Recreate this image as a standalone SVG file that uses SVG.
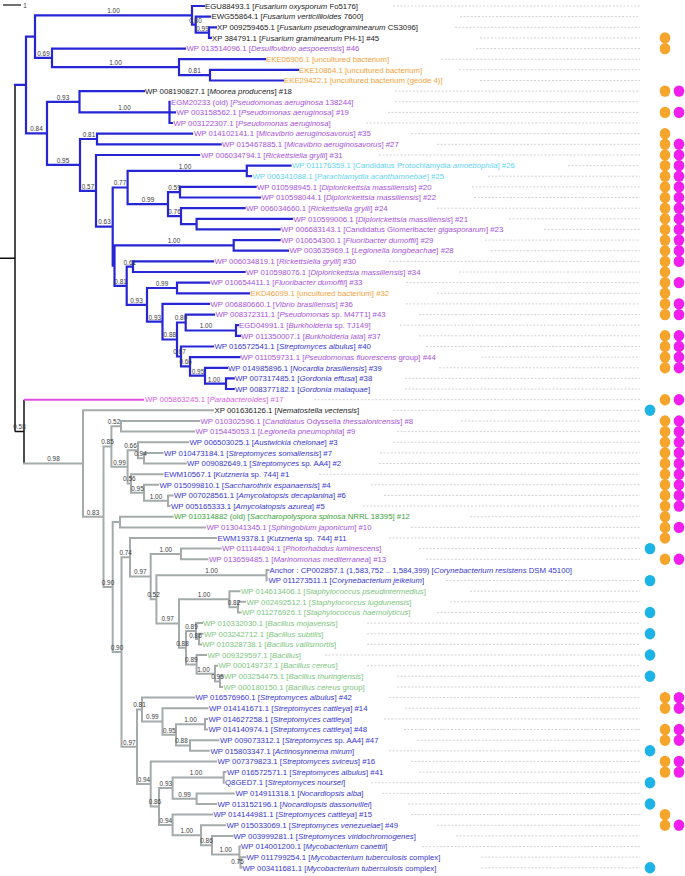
<svg xmlns="http://www.w3.org/2000/svg" width="685" height="876" viewBox="0 0 685 876">
<style>
.t{font-family:"Liberation Sans",Arial,sans-serif;font-size:7.8px}
.s{font-family:"Liberation Sans",Arial,sans-serif;font-size:6.4px;fill:#3a3a3a;text-anchor:middle}
.i{font-style:italic}
.k{fill:#1a1a1a}.p{fill:#a652dc}.b{fill:#3636cf}.o{fill:#f2a33a}.c{fill:#5fd3f2}.g{fill:#3aa33a}.lg{fill:#7cc67c}.m{fill:#d662e0}
.bb{stroke:#2626d4;stroke-width:2.2;fill:none;stroke-linecap:square}
.bg{stroke:#a4abab;stroke-width:2;fill:none;stroke-linecap:square}
.bk{stroke:#111;stroke-width:1.5;fill:none}
.bm{stroke:#e050e0;stroke-width:2;fill:none}
.ld{stroke:#c6c6c6;stroke-width:0.8;stroke-dasharray:2 1.6;fill:none}
.dO{fill:#f5a42c}.dM{fill:#f01fee}.dC{fill:#1db3e6}
</style>
<defs>
<ellipse id="dot" rx="5.3" ry="5.7"/>
</defs>
<g id="scale"><line x1="3" y1="5" x2="21" y2="5" stroke="#111" stroke-width="1.2"/><text class="s" x="25" y="7.5">1</text></g>
<g id="connectors">
<path class="bk" d="M0 258.3H15 M15 84.9V431.6 M15 431.6H24 M24 399.7V463.6"/>
<path class="bm" d="M24 399.7H144"/>
<path class="bb" d="M15 84.9H26 M26 36.6V133.3 M26 36.6H35 M35 15.3V57.9 M35 15.3H192 M192 6V24.6 M192 6H204 M192 24.6H195.7 M195.7 16.6V32.6 M195.7 16.6H210 M195.7 32.6H209 M209 27.3V37.9 M209 27.3H216 M209 37.9H211 M35 57.9H52 M52 48.6V67.2 M52 48.6H185 M52 67.2H179 M179 59.2V75.2 M179 59.2H265 M179 75.2H210 M210 69.8V80.5 M210 69.8H298 M210 80.5H283 M26 133.3H47 M47 101.8V164.9 M47 101.8H79.5 M79.5 91.1V112.4 M79.5 91.1H144 M79.5 112.4H169.5 M169.5 101.8V123 M169.5 112.4H175 M169.5 123H172 M47 164.9H80 M80 139V190.8 M80 139H97 M97 133.7V144.3 M97 133.7H192 M97 144.3H220.6 M80 190.8H96 M96 155V226.6 M96 155H199 M96 226.6H112.7 M112.7 187.5V265.6 M112.7 187.5H127.6 M127.6 170.9V204.2 M127.6 170.9H246.8 M246.8 165.6V176.2 M246.8 165.6H290.5 M246.8 176.2H251 M127.6 204.2H168 M168 192.2V216.1 M168 192.2H180 M180 186.9V197.5 M180 186.9H255.6 M180 197.5H260 M168 216.1H181 M181 208.2V224.1 M181 208.2H244.6 M181 224.1H196.6 M196.6 218.8V229.4 M196.6 218.8H292 M196.6 229.4H279.6 M112.7 265.6H114.5 M114.5 245.4V285.8 M114.5 245.4H233.7 M233.7 240.1V250.7 M233.7 240.1H279.6 M233.7 250.7H288 M114.5 285.8H126.7 M126.7 266.7V304.8 M126.7 266.7H133 M133 261.4V272 M133 261.4H213 M133 272H244.6 M126.7 304.8H147 M147 288V321.7 M147 288H177 M177 282.6V293.3 M177 282.6H209 M177 293.3H249 M147 321.7H162.5 M162.5 303.9V339.5 M162.5 303.9H209 M162.5 339.5H177 M177 322.5V356.5 M177 322.5H185.7 M185.7 314.6V330.5 M185.7 314.6H214 M185.7 330.5H236 M236 325.2V335.8 M236 325.2H238 M236 335.8H240 M177 356.5H181 M181 346.5V366.4 M181 346.5H213 M181 366.4H190 M190 357.1V375.7 M190 357.1H239.4 M190 375.7H205 M205 367.8V383.7 M205 367.8H227 M205 383.7H226 M226 378.4V389 M226 378.4H233.7 M226 389H233.7"/>
<path class="bg" d="M24 463.6H83 M83 410.3V516.8 M83 410.3H213 M83 516.8H103.5 M103.5 446.6V587 M103.5 446.6H111.4 M111.4 426.3V466.8 M111.4 426.3H121 M121 421V431.6 M121 421H199 M121 431.6H194 M111.4 466.8H127.6 M127.6 450.2V483.5 M127.6 450.2H138 M138 442.2V458.2 M138 442.2H188 M138 458.2H144 M144 452.9V463.5 M144 452.9H162.5 M144 463.5H185.7 M127.6 483.5H131 M131 474.2V492.8 M131 474.2H162.5 M131 492.8H144 M144 484.8V500.8 M144 484.8H158 M144 500.8H168 M168 495.4V506.1 M168 495.4H172.6 M168 506.1H169.5 M103.5 587H112.7 M112.7 522V652 M112.7 522H120 M120 516.7V527.4 M120 516.7H172.6 M120 527.4H205 M112.7 652H121.5 M121.5 557.3V746.8 M121.5 557.3H130 M130 538V576.6 M130 538H216 M130 576.6H150.7 M150.7 554V599.3 M150.7 554H181 M181 548.6V559.3 M181 548.6H220.6 M181 559.3H207.5 M150.7 599.3H156.4 M156.4 575.2V623.4 M156.4 575.2H266.5 M266.5 569.9V580.6 M266.5 569.9H268.5 M156.4 623.4H179 M179 599.2V647.7 M179 599.2H229.4 M229.4 591.2V607.2 M229.4 591.2H239.4 M229.4 607.2H238 M238 601.8V612.5 M238 601.8H245 M238 612.5H240.5 M179 647.7H186 M186 631.1V664.4 M186 631.1H196 M196 623.1V639.1 M196 623.1H202 M196 639.1H199 M199 633.8V644.4 M199 633.8H202.5 M199 644.4H201 M186 664.4H196.6 M196.6 655V673.7 M196.6 655H206 M196.6 673.7H215 M215 665.7V681.6 M215 665.7H217 M215 681.6H220 M220 676.3V687 M220 676.3H222.5 M220 687H222 M121.5 746.8H137 M137 709.6V784 M137 709.6H142 M142 697.6V721.5 M142 697.6H194.4 M142 721.5H162.5 M162.5 708.2V734.8 M162.5 708.2H207.5 M162.5 734.8H176 M176 724.2V745.5 M176 724.2H205 M205 718.9V729.5 M205 718.9H207 M205 729.5H207 M176 745.5H190 M190 740.2V750.8 M190 740.2H218.4 M190 750.8H208.8 M137 784H150.7 M150.7 761.4V806.5 M150.7 761.4H216 M150.7 806.5H159 M159 788V825 M159 788H172.6 M172.6 777.4V798.7 M172.6 777.4H223.7 M223.7 772.1V782.7 M223.7 772.1H225.5 M172.6 798.7H196.6 M196.6 793.4V804 M196.6 793.4H233.7 M196.6 804H216 M159 825H172.6 M172.6 814.6V835.3 M172.6 814.6H212 M172.6 835.3H201 M201 825.3V845.2 M201 825.3H225 M201 845.2H212 M212 835.9V854.5 M212 835.9H232.4 M212 854.5H239.4 M239.4 846.6V862.5 M239.4 846.6H240 M239.4 862.5H240.5 M240.5 857.2V867.8 M240.5 857.2H245.5 M240.5 867.8H241.5"/>
<path class="ld" d="M393 6H640 M460 16.6H640 M455 27.3H640 M480 37.9H640 M476 48.6H640 M441 59.2H640 M459 69.8H640 M480 80.5H640 M395 91.1H640 M395 101.8H640 M388 112.4H640 M366 123H640 M411 133.7H640 M437 144.3H640 M379 155H640 M568 165.6H640 M488 176.2H640 M472 186.9H640 M474 197.5H640 M437 208.2H640 M509 218.8H640 M544 229.4H640 M485 240.1H640 M491 250.7H640 M389 261.4H640 M459 272H640 M406 282.6H640 M437 293.3H640 M406 303.9H640 M419 314.6H640 M400 325.2H640 M419 335.8H640 M426 346.5H640 M481 357.1H640 M439 367.8H640 M405 378.4H640 M405 389H640 M314 399.7H640 M393 410.3H640 M461 421H640 M397 431.6H640 M393 442.2H640 M380 452.9H640 M379 463.5H640 M319 474.2H640 M371 484.8H640 M384 495.4H640 M363 506.1H640 M470 516.7H640 M411 527.4H640 M389 538H640 M419 548.6H640 M426 559.3H640 M446 580.6H640 M470 591.2H640 M450 601.8H640 M437 612.5H640 M367 623.1H640 M367 633.8H640 M367 644.4H640 M325 655H640 M367 665.7H640 M397 676.3H640 M397 687H640 M389 697.6H640 M405 708.2H640 M384 718.9H640 M404 729.5H640 M417 740.2H640 M389 750.8H640 M411 761.4H640 M419 772.1H640 M371 782.7H640 M382 793.4H640 M408 804H640 M411 814.6H640 M437 825.3H640 M456 835.9H640 M422 846.6H640 M481 857.2H640 M481 867.8H640"/>
</g>
<g id="supports">
<text class="s" x="113.5" y="13.1">1.00</text><text class="s" x="195.5" y="22.5">0.80</text><text class="s" x="202.5" y="30.6">0.99</text>
<text class="s" x="43.5" y="55.7">0.69</text><text class="s" x="115.5" y="65">1.00</text><text class="s" x="194.5" y="72.9">0.81</text>
<text class="s" x="63" y="99.6">0.93</text><text class="s" x="124.5" y="110.2">1.00</text><text class="s" x="36.5" y="131.1">0.84</text>
<text class="s" x="89" y="136.8">0.81</text><text class="s" x="63" y="162.7">0.95</text><text class="s" x="88" y="188.6">0.57</text>
<text class="s" x="104.5" y="224.4">0.63</text><text class="s" x="120" y="185.3">0.77</text><text class="s" x="185" y="168.7">1.00</text>
<text class="s" x="148" y="202">0.99</text><text class="s" x="174.5" y="190">0.59</text><text class="s" x="174.5" y="213.9">0.76</text>
<text class="s" x="174" y="243.2">1.00</text><text class="s" x="129.8" y="264.5">0.61</text><text class="s" x="120.6" y="283.6">0.81</text>
<text class="s" x="136.5" y="302.6">0.93</text><text class="s" x="162" y="285.8">0.99</text><text class="s" x="154.8" y="319.5">0.93</text>
<text class="s" x="181" y="320.3">0.80</text><text class="s" x="206" y="328.3">1.00</text><text class="s" x="169.8" y="337.3">0.88</text>
<text class="s" x="179.5" y="354.3">0.67</text><text class="s" x="185.7" y="364.2">0.66</text><text class="s" x="198" y="373.5">0.95</text>
<text class="s" x="214" y="381.5">1.00</text>
<text class="s" x="19.5" y="429.4">0.58</text><text class="s" x="53.5" y="461.4">0.98</text><text class="s" x="93" y="514.6">0.83</text>
<text class="s" x="107.5" y="444.4">0.85</text><text class="s" x="114" y="424.1">0.52</text><text class="s" x="119.5" y="464.6">0.99</text>
<text class="s" x="130.5" y="448">0.66</text><text class="s" x="140.5" y="456">0.94</text><text class="s" x="129.3" y="481.3">0.56</text>
<text class="s" x="137.5" y="490.6">0.95</text><text class="s" x="156" y="498.6">1.00</text><text class="s" x="108" y="584.8">0.90</text>
<text class="s" x="117" y="649.8">0.90</text><text class="s" x="125.7" y="555.1">0.74</text><text class="s" x="140.3" y="574.4">0.97</text>
<text class="s" x="165.8" y="551.8">1.00</text><text class="s" x="153.5" y="597.1">0.52</text><text class="s" x="211.5" y="573">1.00</text>
<text class="s" x="167.7" y="621.2">0.97</text><text class="s" x="204" y="597">1.00</text><text class="s" x="234" y="605.2">0.82</text>
<text class="s" x="182.5" y="645.5">0.88</text><text class="s" x="191.5" y="628.6">0.89</text><text class="s" x="195.5" y="637.8">0.86</text>
<text class="s" x="191.3" y="662.2">0.89</text><text class="s" x="203.5" y="671.5">1.00</text><text class="s" x="217.5" y="679.4">0.95</text>
<text class="s" x="129.3" y="744.6">0.97</text><text class="s" x="139.5" y="707.4">0.81</text><text class="s" x="152.3" y="719.3">0.99</text>
<text class="s" x="169.3" y="732.6">0.95</text><text class="s" x="190.5" y="722">1.00</text><text class="s" x="181.5" y="743.3">0.88</text>
<text class="s" x="143.9" y="781.8">0.94</text><text class="s" x="154.9" y="804.3">0.86</text><text class="s" x="165.8" y="785.8">0.93</text>
<text class="s" x="196" y="775.2">1.00</text><text class="s" x="184.6" y="796.5">0.99</text><text class="s" x="165.8" y="822.7">0.94</text>
<text class="s" x="186.8" y="833">1.00</text><text class="s" x="206.5" y="843">0.86</text><text class="s" x="225.7" y="852.3">1.00</text>
<text class="s" x="237.5" y="864">0.75</text>
</g>
<g id="n01"><text class="t k" x="205" y="8.7">EGU88493.1 [<tspan class="i">Fusarium oxysporum</tspan> Fo5176]</text></g>
<g id="n02"><text class="t k" x="211.5" y="19.3">EWG55864.1 [<tspan class="i">Fusarium verticillioides</tspan> 7600]</text></g>
<g id="n03"><text class="t k" x="217" y="30">XP 009259465.1 [<tspan class="i">Fusarium pseudograminearum</tspan> CS3096]</text></g>
<g id="n04"><text class="t k" x="212" y="40.6">XP 384791.1 [<tspan class="i">Fusarium graminearum</tspan> PH-1] #45</text><use href="#dot" class="dO" x="665" y="37.9"/></g>
<g id="n05"><text class="t p" x="186.5" y="51.3">WP 013514096.1 [<tspan class="i">Desulfovibrio aespoeensis</tspan>] #46</text><use href="#dot" class="dO" x="665" y="48.6"/></g>
<g id="n06"><text class="t o" x="266" y="61.9">EKE06906.1 [uncultured bacterium]</text></g>
<g id="n07"><text class="t o" x="299" y="72.5">EKE10864.1 [uncultured bacterium]</text></g>
<g id="n08"><text class="t o" x="284" y="83.2">EKE29422.1 [uncultured bacterium (geode 4)]</text></g>
<g id="n09"><text class="t k" x="145" y="93.8">WP 008190827.1 [<tspan class="i">Moorea producens</tspan>] #18</text><use href="#dot" class="dO" x="665" y="91.1"/><use href="#dot" class="dM" x="679" y="91.1"/></g>
<g id="n10"><text class="t p" x="171" y="104.5">EGM20233 (old) [<tspan class="i">Pseudomonas aeruginosa</tspan> 138244]</text></g>
<g id="n11"><text class="t p" x="176.5" y="115.1">WP 003158562.1 [<tspan class="i">Pseudomonas aeruginosa</tspan>] #19</text><use href="#dot" class="dO" x="665" y="112.4"/><use href="#dot" class="dM" x="679" y="112.4"/></g>
<g id="n12"><text class="t p" x="173.5" y="125.7">WP 003122307.1 [<tspan class="i">Pseudomonas aeruginosa</tspan>]</text></g>
<g id="n13"><text class="t p" x="194" y="136.4">WP 014102141.1 [<tspan class="i">Micavibrio aeruginosavorus</tspan>] #35</text><use href="#dot" class="dO" x="665" y="133.7"/></g>
<g id="n14"><text class="t p" x="222" y="147">WP 015467885.1 [<tspan class="i">Micavibrio aeruginosavorus</tspan>] #27</text><use href="#dot" class="dO" x="665" y="144.3"/><use href="#dot" class="dM" x="679" y="144.3"/></g>
<g id="n15"><text class="t p" x="201" y="157.7">WP 006034794.1 [<tspan class="i">Rickettsiella grylli</tspan>] #31</text><use href="#dot" class="dO" x="665" y="155"/><use href="#dot" class="dM" x="679" y="155"/></g>
<g id="n16"><text class="t c" x="292" y="168.3">WP 011176359.1 [Candidatus Protochlamydia <tspan class="i">amoebophila</tspan>] #26</text><use href="#dot" class="dO" x="665" y="165.6"/><use href="#dot" class="dM" x="679" y="165.6"/></g>
<g id="n17"><text class="t c" x="252.5" y="178.9">WP 006341088.1 [<tspan class="i">Parachlamydia acanthamoebae</tspan>] #25</text><use href="#dot" class="dO" x="665" y="176.2"/><use href="#dot" class="dM" x="679" y="176.2"/></g>
<g id="n18"><text class="t p" x="257" y="189.6">WP 010598945.1 [<tspan class="i">Diplorickettsia massiliensis</tspan>] #20</text><use href="#dot" class="dO" x="665" y="186.9"/><use href="#dot" class="dM" x="679" y="186.9"/></g>
<g id="n19"><text class="t p" x="261.5" y="200.2">WP 010598044.1 [<tspan class="i">Diplorickettsia massiliensis</tspan>] #22</text><use href="#dot" class="dO" x="665" y="197.5"/><use href="#dot" class="dM" x="679" y="197.5"/></g>
<g id="n20"><text class="t p" x="246" y="210.9">WP 006034660.1 [<tspan class="i">Rickettsiella grylli</tspan>] #24</text><use href="#dot" class="dO" x="665" y="208.2"/><use href="#dot" class="dM" x="679" y="208.2"/></g>
<g id="n21"><text class="t p" x="293.5" y="221.5">WP 010599006.1 [<tspan class="i">Diplorickettsia massiliensis</tspan>] #21</text><use href="#dot" class="dO" x="665" y="218.8"/><use href="#dot" class="dM" x="679" y="218.8"/></g>
<g id="n22"><text class="t p" x="281" y="232.1">WP 006683143.1 [Candidatus Glomeribacter <tspan class="i">gigasporarum</tspan>] #23</text><use href="#dot" class="dO" x="665" y="229.4"/><use href="#dot" class="dM" x="679" y="229.4"/></g>
<g id="n23"><text class="t p" x="281" y="242.8">WP 010654300.1 [<tspan class="i">Fluoribacter dumoffii</tspan>] #29</text><use href="#dot" class="dO" x="665" y="240.1"/><use href="#dot" class="dM" x="679" y="240.1"/></g>
<g id="n24"><text class="t p" x="289.5" y="253.4">WP 003635969.1 [<tspan class="i">Legionella longbeachae</tspan>] #28</text><use href="#dot" class="dO" x="665" y="250.7"/><use href="#dot" class="dM" x="679" y="250.7"/></g>
<g id="n25"><text class="t p" x="214.5" y="264.1">WP 006034819.1 [<tspan class="i">Rickettsiella grylli</tspan>] #30</text><use href="#dot" class="dO" x="665" y="261.4"/><use href="#dot" class="dM" x="679" y="261.4"/></g>
<g id="n26"><text class="t p" x="246" y="274.7">WP 010598076.1 [<tspan class="i">Diplorickettsia massiliensis</tspan>] #34</text><use href="#dot" class="dO" x="665" y="272"/></g>
<g id="n27"><text class="t p" x="210.5" y="285.3">WP 010654411.1 [<tspan class="i">Fluoribacter dumoffii</tspan>] #33</text><use href="#dot" class="dO" x="665" y="282.6"/><use href="#dot" class="dM" x="679" y="282.6"/></g>
<g id="n28"><text class="t o" x="250.5" y="296">EKD46099.1 [uncultured bacterium] #32</text><use href="#dot" class="dO" x="665" y="293.3"/></g>
<g id="n29"><text class="t p" x="210.5" y="306.6">WP 006880660.1 [<tspan class="i">Vibrio brasiliensis</tspan>] #36</text><use href="#dot" class="dO" x="665" y="303.9"/><use href="#dot" class="dM" x="679" y="303.9"/></g>
<g id="n30"><text class="t p" x="215.5" y="317.3">WP 008372311.1 [<tspan class="i">Pseudomonas</tspan> sp. M47T1] #43</text><use href="#dot" class="dO" x="665" y="314.6"/><use href="#dot" class="dM" x="679" y="314.6"/></g>
<g id="n31"><text class="t p" x="239" y="327.9">EGD04991.1 [<tspan class="i">Burkholderia</tspan> sp. TJ149]</text></g>
<g id="n32"><text class="t p" x="241" y="338.5">WP 011350007.1 [<tspan class="i">Burkholderia lata</tspan>] #37</text><use href="#dot" class="dO" x="665" y="335.8"/><use href="#dot" class="dM" x="679" y="335.8"/></g>
<g id="n33"><text class="t b" x="214.5" y="349.2">WP 016572541.1 [<tspan class="i">Streptomyces albulus</tspan>] #40</text><use href="#dot" class="dO" x="665" y="346.5"/><use href="#dot" class="dM" x="679" y="346.5"/></g>
<g id="n34"><text class="t p" x="240.5" y="359.8">WP 011059731.1 [<tspan class="i">Pseudomonas fluorescens</tspan> group] #44</text><use href="#dot" class="dO" x="665" y="357.1"/><use href="#dot" class="dM" x="679" y="357.1"/></g>
<g id="n35"><text class="t b" x="228" y="370.5">WP 014985896.1 [<tspan class="i">Nocardia brasiliensis</tspan>] #39</text><use href="#dot" class="dO" x="665" y="367.8"/><use href="#dot" class="dM" x="679" y="367.8"/></g>
<g id="n36"><text class="t b" x="235" y="381.1">WP 007317485.1 [<tspan class="i">Gordonia effusa</tspan>] #38</text></g>
<g id="n37"><text class="t b" x="235" y="391.7">WP 008377182.1 [<tspan class="i">Gordonia malaquae</tspan>]</text></g>
<g id="n38"><text class="t m" x="145" y="402.4">WP 005863245.1 [<tspan class="i">Parabacteroides</tspan>] #17</text><use href="#dot" class="dO" x="665" y="399.7"/><use href="#dot" class="dM" x="679" y="399.7"/></g>
<g id="n39"><text class="t k" x="214.5" y="413">XP 001636126.1 [<tspan class="i">Nematostella vectensis</tspan>]</text><use href="#dot" class="dC" x="650" y="410.3"/></g>
<g id="n40"><text class="t p" x="200.5" y="423.7">WP 010302596.1 [<tspan class="i">Candidatus</tspan> Odyssella <tspan class="i">thessalonicensis</tspan>] #8</text><use href="#dot" class="dO" x="665" y="421"/><use href="#dot" class="dM" x="679" y="421"/></g>
<g id="n41"><text class="t p" x="195.5" y="434.3">WP 015445053.1 [<tspan class="i">Legionella pneumophila</tspan>] #9</text><use href="#dot" class="dO" x="665" y="431.6"/><use href="#dot" class="dM" x="679" y="431.6"/></g>
<g id="n42"><text class="t b" x="189.5" y="444.9">WP 006503025.1 [<tspan class="i">Austwickia chelonae</tspan>] #3</text><use href="#dot" class="dO" x="665" y="442.2"/><use href="#dot" class="dM" x="679" y="442.2"/></g>
<g id="n43"><text class="t b" x="164" y="455.6">WP 010473184.1 [<tspan class="i">Streptomyces somaliensis</tspan>] #7</text><use href="#dot" class="dO" x="665" y="452.9"/><use href="#dot" class="dM" x="679" y="452.9"/></g>
<g id="n44"><text class="t b" x="187" y="466.2">WP 009082649.1 [<tspan class="i">Streptomyces</tspan> sp. AA4] #2</text><use href="#dot" class="dO" x="665" y="463.5"/><use href="#dot" class="dM" x="679" y="463.5"/></g>
<g id="n45"><text class="t b" x="164" y="476.9">EWM10567.1 [<tspan class="i">Kutzneria</tspan> sp. 744] #1</text><use href="#dot" class="dO" x="665" y="474.2"/><use href="#dot" class="dM" x="679" y="474.2"/></g>
<g id="n46"><text class="t b" x="159.5" y="487.5">WP 015099810.1 [<tspan class="i">Saccharothrix espanaensis</tspan>] #4</text><use href="#dot" class="dO" x="665" y="484.8"/><use href="#dot" class="dM" x="679" y="484.8"/></g>
<g id="n47"><text class="t b" x="174" y="498.1">WP 007028561.1 [<tspan class="i">Amycolatopsis decaplanina</tspan>] #6</text><use href="#dot" class="dO" x="665" y="495.4"/><use href="#dot" class="dM" x="679" y="495.4"/></g>
<g id="n48"><text class="t b" x="171" y="508.8">WP 005165333.1 [<tspan class="i">Amycolatopsis azurea</tspan>] #5</text><use href="#dot" class="dO" x="665" y="506.1"/><use href="#dot" class="dM" x="679" y="506.1"/></g>
<g id="n49"><text class="t g" x="174" y="519.4">WP 010314882 (old) [<tspan class="i">Saccharopolyspora spinosa</tspan> NRRL 18395] #12</text><use href="#dot" class="dO" x="665" y="516.7"/></g>
<g id="n50"><text class="t p" x="206.5" y="530.1">WP 013041345.1 [<tspan class="i">Sphingobium japonicum</tspan>] #10</text><use href="#dot" class="dO" x="665" y="527.4"/><use href="#dot" class="dM" x="679" y="527.4"/></g>
<g id="n51"><text class="t b" x="217.5" y="540.7">EWM19378.1 [<tspan class="i">Kutzneria</tspan> sp. 744] #11</text><use href="#dot" class="dO" x="665" y="538"/></g>
<g id="n52"><text class="t p" x="222" y="551.3">WP 011144694.1 [<tspan class="i">Photorhabdus luminescens</tspan>]</text><use href="#dot" class="dC" x="650" y="548.6"/></g>
<g id="n53"><text class="t p" x="209" y="562">WP 013659485.1 [<tspan class="i">Marinomonas mediterranea</tspan>] #13</text><use href="#dot" class="dO" x="665" y="559.3"/><use href="#dot" class="dM" x="679" y="559.3"/></g>
<g id="n54"><text class="t b" x="269.5" y="572.6">Anchor : CP002857.1 (1,583,752 .. 1,584,399) [<tspan class="i">Corynebacterium resistens</tspan> DSM 45100]</text></g>
<g id="n55"><text class="t b" x="268.5" y="583.3">WP 011273511.1 [<tspan class="i">Corynebacterium jeikeium</tspan>]</text><use href="#dot" class="dC" x="650" y="580.6"/></g>
<g id="n56"><text class="t lg" x="241" y="593.9">WP 014613406.1 [<tspan class="i">Staphylococcus pseudintermedius</tspan>]</text></g>
<g id="n57"><text class="t lg" x="246.5" y="604.5">WP 002492512.1 [<tspan class="i">Staphylococcus lugdunensis</tspan>]</text></g>
<g id="n58"><text class="t lg" x="242" y="615.2">WP 011276926.1 [<tspan class="i">Staphylococcus haemolyticus</tspan>]</text><use href="#dot" class="dC" x="650" y="612.5"/></g>
<g id="n59"><text class="t lg" x="203" y="625.8">WP 010332030.1 [<tspan class="i">Bacillus mojavensis</tspan>]</text></g>
<g id="n60"><text class="t lg" x="204" y="636.5">WP 003242712.1 [<tspan class="i">Bacillus subtilis</tspan>]</text><use href="#dot" class="dC" x="650" y="633.8"/></g>
<g id="n61"><text class="t lg" x="202" y="647.1">WP 010328738.1 [<tspan class="i">Bacillus vallismortis</tspan>]</text></g>
<g id="n62"><text class="t lg" x="207.5" y="657.7">WP 009329597.1 [<tspan class="i">Bacillus</tspan>]</text><use href="#dot" class="dC" x="650" y="655"/></g>
<g id="n63"><text class="t lg" x="218.5" y="668.4">WP 000149737.1 [<tspan class="i">Bacillus cereus</tspan>]</text></g>
<g id="n64"><text class="t lg" x="224" y="679">WP 003254475.1 [<tspan class="i">Bacillus thuringiensis</tspan>]</text><use href="#dot" class="dC" x="650" y="676.3"/></g>
<g id="n65"><text class="t lg" x="223.5" y="689.7">WP 000180150.1 [<tspan class="i">Bacillus cereus</tspan> group]</text></g>
<g id="n66"><text class="t b" x="195.5" y="700.3">WP 016576960.1 [<tspan class="i">Streptomyces albulus</tspan>] #42</text><use href="#dot" class="dO" x="665" y="697.6"/><use href="#dot" class="dM" x="679" y="697.6"/></g>
<g id="n67"><text class="t b" x="209" y="710.9">WP 014141671.1 [<tspan class="i">Streptomyces cattleya</tspan>] #14</text><use href="#dot" class="dO" x="665" y="708.2"/><use href="#dot" class="dM" x="679" y="708.2"/></g>
<g id="n68"><text class="t b" x="208.5" y="721.6">WP 014627258.1 [<tspan class="i">Streptomyces cattleya</tspan>]</text></g>
<g id="n69"><text class="t b" x="208.5" y="732.2">WP 014140974.1 [<tspan class="i">Streptomyces cattleya</tspan>] #48</text><use href="#dot" class="dO" x="665" y="729.5"/><use href="#dot" class="dM" x="679" y="729.5"/></g>
<g id="n70"><text class="t b" x="220" y="742.9">WP 009073312.1 [<tspan class="i">Streptomyces</tspan> sp. AA4] #47</text><use href="#dot" class="dO" x="665" y="740.2"/><use href="#dot" class="dM" x="679" y="740.2"/></g>
<g id="n71"><text class="t b" x="210.5" y="753.5">WP 015803347.1 [<tspan class="i">Actinosynnema mirum</tspan>]</text><use href="#dot" class="dC" x="650" y="750.8"/></g>
<g id="n72"><text class="t b" x="217.5" y="764.1">WP 007379823.1 [<tspan class="i">Streptomyces sviceus</tspan>] #16</text><use href="#dot" class="dO" x="665" y="761.4"/><use href="#dot" class="dM" x="679" y="761.4"/></g>
<g id="n73"><text class="t b" x="227" y="774.8">WP 016572571.1 [<tspan class="i">Streptomyces albulus</tspan>] #41</text><use href="#dot" class="dO" x="665" y="772.1"/><use href="#dot" class="dM" x="679" y="772.1"/></g>
<g id="n74"><text class="t b" x="225" y="785.4">Q8GED7.1 [<tspan class="i">Streptomyces noursei</tspan>]</text><use href="#dot" class="dC" x="650" y="782.7"/></g>
<g id="n75"><text class="t b" x="235.5" y="796.1">WP 014911318.1 [<tspan class="i">Nocardiopsis alba</tspan>]</text></g>
<g id="n76"><text class="t b" x="217.5" y="806.7">WP 013152196.1 [<tspan class="i">Nocardiopsis dassonvillei</tspan>]</text><use href="#dot" class="dC" x="650" y="804"/></g>
<g id="n77"><text class="t b" x="213.5" y="817.3">WP 014144981.1 [<tspan class="i">Streptomyces cattleya</tspan>] #15</text><use href="#dot" class="dO" x="665" y="814.6"/></g>
<g id="n78"><text class="t b" x="226.5" y="828">WP 015033069.1 [<tspan class="i">Streptomyces venezuelae</tspan>] #49</text><use href="#dot" class="dO" x="665" y="825.3"/><use href="#dot" class="dM" x="679" y="825.3"/></g>
<g id="n79"><text class="t b" x="233.5" y="838.6">WP 003999281.1 [<tspan class="i">Streptomyces viridochromogenes</tspan>]</text></g>
<g id="n80"><text class="t b" x="241" y="849.3">WP 014001200.1 [<tspan class="i">Mycobacterium canettii</tspan>]</text></g>
<g id="n81"><text class="t b" x="246.5" y="859.9">WP 011799254.1 [<tspan class="i">Mycobacterium tuberculosis</tspan> complex]</text></g>
<g id="n82"><text class="t b" x="242.5" y="870.5">WP 003411681.1 [<tspan class="i">Mycobacterium tuberculosis</tspan> complex]</text><use href="#dot" class="dC" x="650" y="867.8"/></g>
</svg>
